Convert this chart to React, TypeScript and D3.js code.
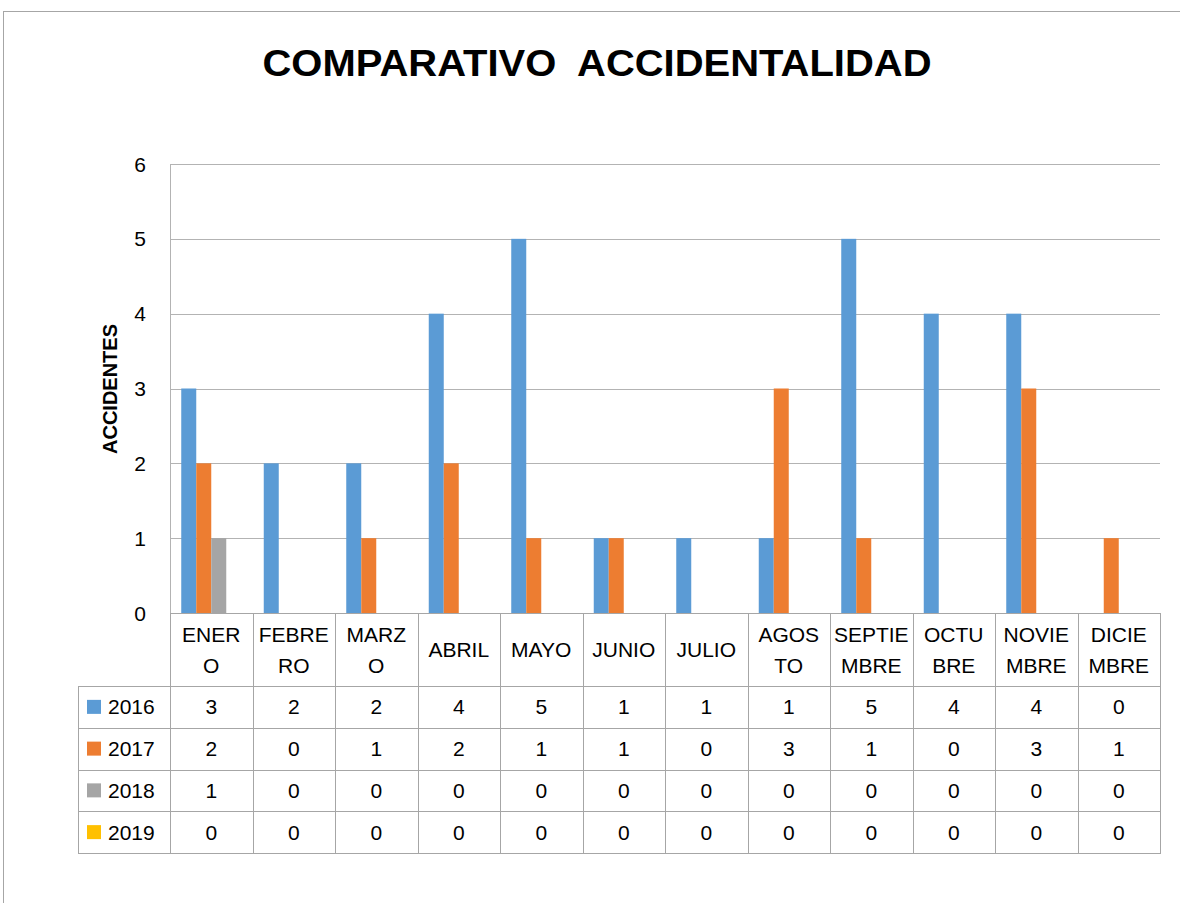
import React from "react"
import * as d3 from "d3"

const months = ["ENERO", "FEBRERO", "MARZO", "ABRIL", "MAYO", "JUNIO", "JULIO", "AGOSTO", "SEPTIEMBRE", "OCTUBRE", "NOVIEMBRE", "DICIEMBRE"]
// how the category labels wrap in the original
const monthLines = [
  ["ENER", "O"], ["FEBRE", "RO"], ["MARZ", "O"], ["ABRIL"], ["MAYO"], ["JUNIO"],
  ["JULIO"], ["AGOS", "TO"], ["SEPTIE", "MBRE"], ["OCTU", "BRE"], ["NOVIE", "MBRE"], ["DICIE", "MBRE"],
]
const years = ["2016", "2017", "2018", "2019"]
const v2016 = [3, 2, 2, 4, 5, 1, 1, 1, 5, 4, 4, 0]
const v2017 = [2, 0, 1, 2, 1, 1, 0, 3, 1, 0, 3, 1]
const v2018 = [1, 0, 0, 0, 0, 0, 0, 0, 0, 0, 0, 0]
const v2019 = [0, 0, 0, 0, 0, 0, 0, 0, 0, 0, 0, 0]
const seriesValues = [v2016, v2017, v2018, v2019]
const colors = ["#5b9bd5", "#ed7d31", "#a5a5a5", "#ffc000"]
const yTicks = [0, 1, 2, 3, 4, 5, 6]

const W = 1180
const H = 903
const FONT = "'Liberation Sans', Arial, sans-serif"

export default function App() {
  const x0 = d3.scaleBand<string>().domain(months).range([170, 1160]).paddingInner(0).paddingOuter(0)
  const x1 = d3.scaleBand<string>().domain(years).range([0, x0.bandwidth()]).paddingInner(0).paddingOuter(0.75)
  const y = d3.scaleLinear().domain([0, 6]).range([613, 164])
  const rows = d3.scaleBand<string>().domain(years).range([686, 853])
  const headerTop = y(0)
  const headerBottom = rows.range()[0]
  const tableLeft = 78
  const grid = "#b3b3b3"
  const border = "#a6a6a6"
  const fs = 21

  return (
    <svg width={W} height={H} style={{ position: "absolute", left: 0, top: 0, background: "#fff" }} fontFamily={FONT}>
      <rect x={3.5} y={11.5} width={1300} height={1000} fill="#fff" stroke="#a6a6a6" />

      <text
        x={597}
        y={76}
        textAnchor="middle"
        fontSize={37}
        fontWeight="bold"
        style={{ whiteSpace: "pre" }}
        textLength={669}
        lengthAdjust="spacingAndGlyphs"
      >
        {"COMPARATIVO  ACCIDENTALIDAD"}
      </text>

      {/* gridlines */}
      {yTicks.map((t) => (
        <line key={t} x1={170} x2={1160} y1={Math.round(y(t)) + 0.5} y2={Math.round(y(t)) + 0.5} stroke={grid} />
      ))}
      <line x1={170.5} x2={170.5} y1={y(6)} y2={y(0)} stroke={grid} />
      {yTicks.map((t) => (
        <text key={"l" + t} x={146} y={y(t) + 7.5} textAnchor="end" fontSize={fs}>
          {t}
        </text>
      ))}
      <text transform={`translate(117,389) rotate(-90)`} textAnchor="middle" fontSize={20} fontWeight="bold">
        ACCIDENTES
      </text>

      {/* bars */}
      {seriesValues.map((vals, si) =>
        vals.map((v, mi) =>
          v > 0 ? (
            <rect
              key={si + "-" + mi}
              x={x0(months[mi])! + x1(years[si])!}
              y={y(v)}
              width={x1.bandwidth()}
              height={y(0) - y(v)}
              fill={colors[si]}
            />
          ) : null
        )
      )}

      {/* data table */}
      {months.map((m, i) => (
        <g key={m}>
          {monthLines[i].map((ln, li) => (
            <text
              key={li}
              x={x0(m)! + x0.bandwidth() / 2}
              y={monthLines[i].length === 1 ? 657 : 642 + li * 31}
              textAnchor="middle"
              fontSize={fs}
            >
              {ln}
            </text>
          ))}
        </g>
      ))}
      {months.map((m, i) => (
        <line key={"v" + i} x1={Math.round(x0(m)!) + 0.5} x2={Math.round(x0(m)!) + 0.5} y1={headerTop} y2={853} stroke={border} />
      ))}
      <line x1={1160.5} x2={1160.5} y1={headerTop} y2={853} stroke={border} />
      <line x1={170} x2={1160} y1={headerTop + 0.5} y2={headerTop + 0.5} stroke={border} />
      <line x1={tableLeft + 0.5} x2={tableLeft + 0.5} y1={headerBottom} y2={853} stroke={border} />
      {[...years.map((yr) => rows(yr)!), 853].map((yy, i) => (
        <line key={"h" + i} x1={tableLeft} x2={1161} y1={Math.round(yy) + 0.5} y2={Math.round(yy) + 0.5} stroke={border} />
      ))}
      {years.map((yr, si) => {
        const cy = rows(yr)! + rows.bandwidth() / 2
        return (
          <g key={yr}>
            <rect x={87} y={cy - 7} width={14} height={14} fill={colors[si]} />
            <text x={108} y={cy + 7.5} fontSize={fs}>
              {yr}
            </text>
            {seriesValues[si].map((v, mi) => (
              <text key={mi} x={x0(months[mi])! + x0.bandwidth() / 2} y={cy + 7.5} textAnchor="middle" fontSize={fs}>
                {v}
              </text>
            ))}
          </g>
        )
      })}
    </svg>
  )
}
